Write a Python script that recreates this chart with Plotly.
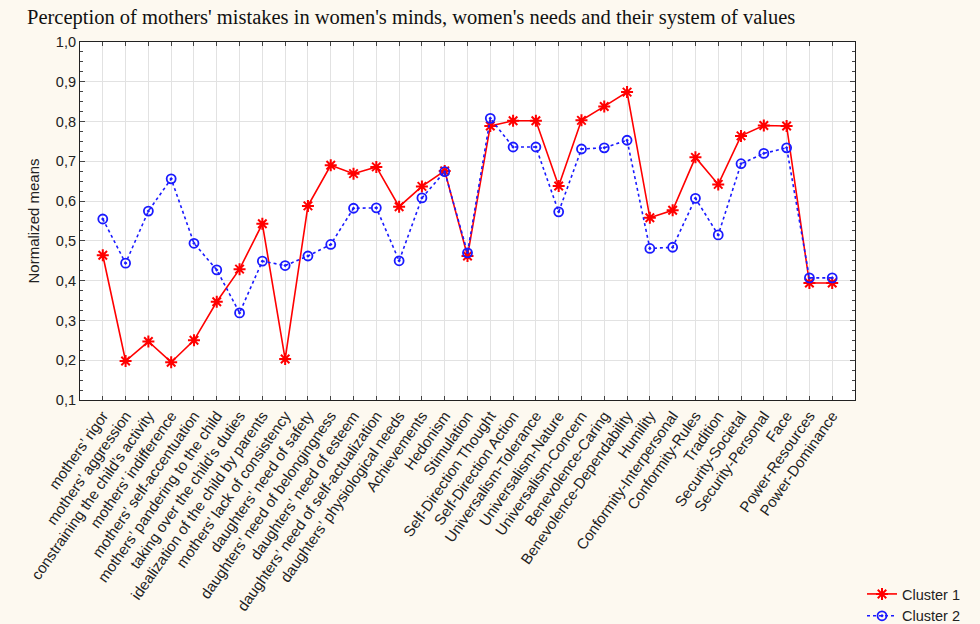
import plotly.graph_objects as go

categories = [
    "mothers’ rigor",
    "mothers’ aggression",
    "constraining the child’s activity",
    "mothers’ indifference",
    "mothers’ self-accentuation",
    "mothers’ pandering to the child",
    "taking over the child’s duties",
    "idealization of the child by parents",
    "mothers’ lack of consistency",
    "daughters’ need of safety",
    "daughters’ need of belongingness",
    "daughters’ need of esteem",
    "daughters’ need of self-actualization",
    "daughters’ physiological needs",
    "Achievements",
    "Hedonism",
    "Stimulation",
    "Self-Direction Thought",
    "Self-Direction Action",
    "Universalism-Tolerance",
    "Universalism-Nature",
    "Universalism-Concern",
    "Benevolence-Caring",
    "Benevolence-Dependability",
    "Humility",
    "Conformity-Interpersonal",
    "Conformity-Rules",
    "Tradition",
    "Security-Societal",
    "Security-Personal",
    "Face",
    "Power-Resources",
    "Power-Dominance",
]

cluster1 = [0.464, 0.198, 0.247, 0.195, 0.250, 0.347, 0.429, 0.543, 0.203,
            0.588, 0.690, 0.669, 0.686, 0.586, 0.637, 0.676, 0.462, 0.789,
            0.802, 0.802, 0.638, 0.803, 0.838, 0.874, 0.558, 0.577, 0.710,
            0.642, 0.764, 0.790, 0.789, 0.394, 0.394]

cluster2 = [0.555, 0.444, 0.575, 0.656, 0.494, 0.427, 0.319, 0.449, 0.438,
            0.462, 0.491, 0.582, 0.583, 0.450, 0.608, 0.674, 0.470, 0.808,
            0.736, 0.736, 0.573, 0.731, 0.734, 0.753, 0.481, 0.484, 0.607,
            0.515, 0.694, 0.720, 0.734, 0.407, 0.407]

y_ticks = [0.1, 0.2, 0.3, 0.4, 0.5, 0.6, 0.7, 0.8, 0.9, 1.0]

x_idx = list(range(len(categories)))

fig = go.Figure()
fig.add_trace(go.Scatter(
    x=x_idx, y=cluster1, name="Cluster 1", mode="lines+markers",
    line=dict(color="#ff0000", width=1.6),
    marker=dict(symbol="asterisk-open", size=10,
                line=dict(color="#ff0000", width=2)),
))
fig.add_trace(go.Scatter(
    x=x_idx, y=cluster2, name="Cluster 2", mode="lines+markers",
    line=dict(color="#1a1aff", width=1.6, dash="dot"),
    marker=dict(symbol="circle-open-dot", size=9,
                line=dict(color="#0000ff", width=1.8)),
))

fig.update_layout(
    width=980, height=624,
    paper_bgcolor="#fdf9f0",
    plot_bgcolor="#ffffff",
    separators=", ",
    margin=dict(l=80, r=125, t=42, b=224, autoexpand=False),
    font=dict(family="Liberation Sans, Arial, sans-serif", size=13, color="#222222"),
    title=dict(
        text="Perception of mothers' mistakes in women's minds, women's needs and their system of values",
        font=dict(family="Liberation Serif, Times New Roman, serif", size=20.5, color="#111111"),
        x=27 / 980, xanchor="left", xref="container",
        y=1 - 17 / 624, yanchor="middle", yref="container",
    ),
    showlegend=True,
    legend=dict(
        xref="container", yref="container",
        x=862 / 980, xanchor="left", y=1 - 578 / 624, yanchor="top",
        bgcolor="rgba(0,0,0,0)", font=dict(size=14.5, color="#222222"),
        tracegroupgap=0, itemwidth=30,
    ),
)

fig.update_xaxes(
    range=[-1, len(categories)],
    tickmode="array", tickvals=x_idx, ticktext=categories,
    tickangle=-55, tickfont=dict(size=15, color="#222222"),
    ticks="inside", ticklen=4, tickcolor="#444444",
    showgrid=True, gridcolor="#e2e2e2", gridwidth=1,
    showline=True, linecolor="#222222", linewidth=1.2, mirror="ticks",
    zeroline=False, automargin=False,
)

fig.update_yaxes(
    range=[0.1, 1.0],
    tickmode="array", tickvals=y_ticks, tickformat=".1f",
    tickfont=dict(size=14.5, color="#222222"),
    ticks="inside", ticklen=5, tickcolor="#444444",
    minor=dict(dtick=0.025, tick0=0.1, ticks="inside", ticklen=3,
               tickcolor="#444444", showgrid=False),
    showgrid=True, gridcolor="#e2e2e2", gridwidth=1,
    showline=True, linecolor="#222222", linewidth=1.2, mirror="ticks",
    zeroline=False, automargin=False,
    title=dict(text="Normalized means", font=dict(size=15, color="#222222"), standoff=12),
)

fig.write_html("out.html")
